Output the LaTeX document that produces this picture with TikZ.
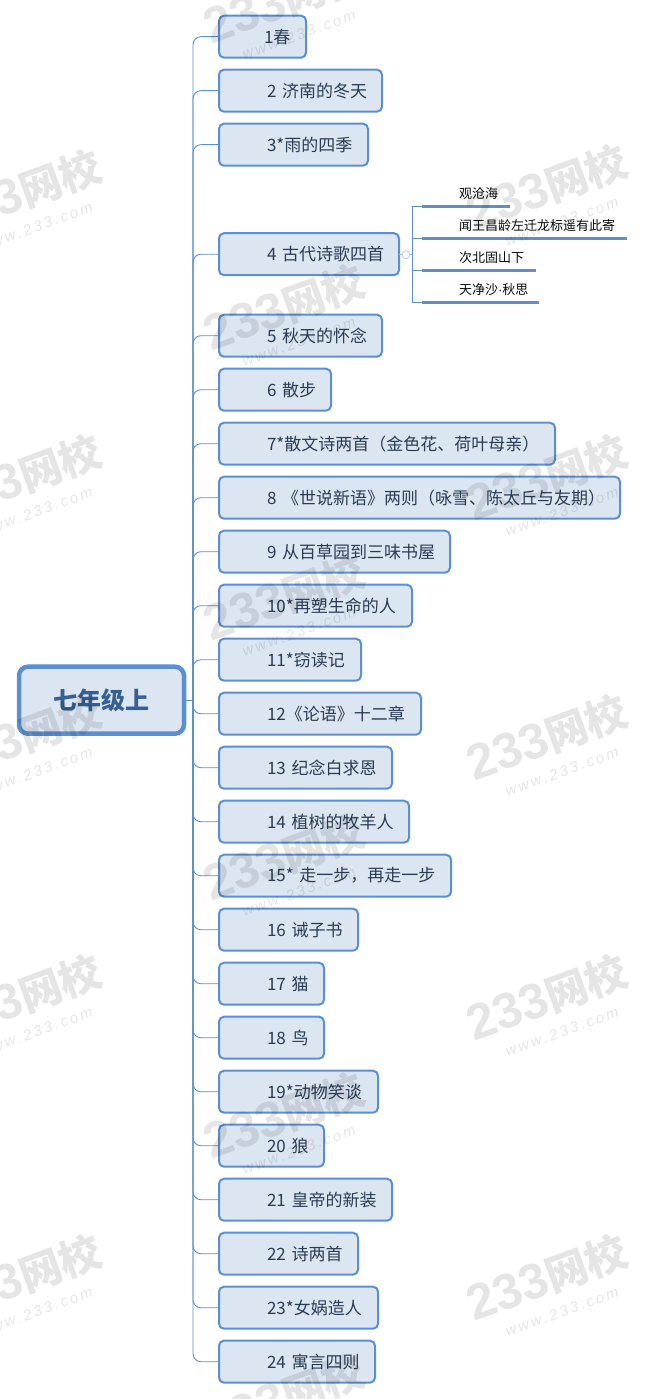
\documentclass[tikz,border=0pt]{standalone}
\usepackage{fontspec}
\setmainfont{Noto Sans CJK SC}
\newfontfamily\wmfont{Liberation Sans}
\definecolor{edge}{HTML}{5A8FD4}
\definecolor{boxfill}{HTML}{DCE6F2}
\definecolor{ink}{HTML}{2A3B55}
\definecolor{rootink}{HTML}{366092}
\tikzset{
 x=1pt,y=-1pt,
 topic/.style={draw=edge,line width=2pt,fill=boxfill,rounded corners=5pt,anchor=west,minimum height=42pt,inner xsep=0pt,inner ysep=0pt,outer sep=0pt,align=left,text=ink,font=\fontsize{17}{20}\selectfont},
 rootbox/.style={draw=edge,line width=4.5pt,fill=boxfill,rounded corners=9pt,minimum width=165pt,minimum height=67pt,outer sep=0pt,text=rootink,font=\fontsize{24}{28}\selectfont\bfseries},
 subt/.style={anchor=south west,inner xsep=0pt,inner ysep=0pt,outer sep=0pt,minimum height=26pt,align=left,text=black!85!ink,font=\fontsize{13}{16}\selectfont},
 subline/.style={draw=edge,line width=3.2pt},
 link/.style={draw=edge,line width=.9pt,rounded corners=8pt},
 sublink/.style={draw=edge,line width=.9pt},
 wm/.style={rotate=20,text=black,text opacity=.1,inner sep=0pt,align=center,font=\wmfont\fontsize{50}{50}\selectfont\bfseries},
}
\newcommand{\wmark}[2]{\node[wm] (#2) at (#1) {233\fontspec{Noto Sans CJK SC}\fontsize{42}{50}\selectfont 网校\\[-24pt]{\wmfont\fontsize{15}{18}\selectfont\mdseries\itshape\ w\,w\,w\,.\,2\,3\,3\,.\,c\,o\,m}};}
\begin{document}
\begin{tikzpicture}
\useasboundingbox (0,0) rectangle (645,1399);
\begin{scope}[yshift=-0.7pt]
\node[rootbox] (root) at (101.5,699.5) {七年级上};
\coordinate (j) at (193,699.5);
\draw[link,rounded corners=0pt] (root.east) -- (j);
\node[topic,text width=87pt] (t1) at (219,36) {\hspace*{45pt}1春};
\node[topic,text width=163pt] (t2) at (219,90) {\hspace*{48pt}2 济南的冬天};
\node[topic,text width=149pt] (t3) at (219,144) {\hspace*{48pt}3*雨的四季};
\node[topic,text width=180pt] (t4) at (219,253.5) {\hspace*{48pt}4 古代诗歌四首};
\node[topic,text width=163pt] (t5) at (219,335) {\hspace*{48pt}5 秋天的怀念};
\node[topic,text width=112pt] (t6) at (219,389) {\hspace*{48pt}6 散步};
\node[topic,text width=336pt] (t7) at (219,443) {\hspace*{48pt}7*散文诗两首（金色花、荷叶母亲）};
\node[topic,text width=401pt] (t8) at (219,497) {\hspace*{48pt}8 《世说新语》两则（咏雪、陈太丘与友期）};
\node[topic,text width=231pt] (t9) at (219,551) {\hspace*{48pt}9 从百草园到三味书屋};
\node[topic,text width=193pt] (t10) at (219,605) {\hspace*{48pt}10*再塑生命的人};
\node[topic,text width=142pt] (t11) at (219,659) {\hspace*{48pt}11*窃读记};
\node[topic,text width=202pt] (t12) at (219,713) {\hspace*{48pt}12《论语》十二章};
\node[topic,text width=173pt] (t13) at (219,767) {\hspace*{48pt}13 纪念白求恩};
\node[topic,text width=190pt] (t14) at (219,821) {\hspace*{48pt}14 植树的牧羊人};
\node[topic,text width=232pt] (t15) at (219,875) {\hspace*{48pt}15* 走一步，再走一步};
\node[topic,text width=139pt] (t16) at (219,929) {\hspace*{48pt}16 诫子书};
\node[topic,text width=105pt] (t17) at (219,983) {\hspace*{48pt}17 猫};
\node[topic,text width=105pt] (t18) at (219,1037) {\hspace*{48pt}18 鸟};
\node[topic,text width=159pt] (t19) at (219,1091) {\hspace*{48pt}19*动物笑谈};
\node[topic,text width=105pt] (t20) at (219,1145) {\hspace*{48pt}20 狼};
\node[topic,text width=173pt] (t21) at (219,1199) {\hspace*{48pt}21 皇帝的新装};
\node[topic,text width=139pt] (t22) at (219,1253) {\hspace*{48pt}22 诗两首};
\node[topic,text width=159pt] (t23) at (219,1307) {\hspace*{48pt}23*女娲造人};
\node[topic,text width=156pt] (t24) at (219,1361) {\hspace*{48pt}24 寓言四则};
\foreach \n in {1,...,24} {\draw[link] (j) |- (t\n.west);}
% sub topics
\node[circle,draw=edge!50,line width=.7pt,minimum size=8pt,inner sep=0pt,outer sep=0pt] (col) at (406,254) {};
\draw[sublink,draw=edge!60] (t4.east) -- (col.west);
\coordinate (k) at (412,254);
\draw[sublink,draw=edge!60] (col.east) -- (k);
\node[subt,text width=88pt] (s1) at (422,206) {\hspace*{37pt}观沧海};
\node[subt,text width=205pt] (s2) at (422,238) {\hspace*{37pt}闻王昌龄左迁龙标遥有此寄};
\node[subt,text width=114pt] (s3) at (422,270) {\hspace*{37pt}次北固山下};
\node[subt,text width=117pt] (s4) at (422,302) {\hspace*{37pt}天净沙{\wmfont ·}秋思};
\foreach \n in {1,...,4} {
 \draw[sublink] (k) |- (s\n.south west);
 \draw[subline] (s\n.south west) -- (s\n.south east);
}
\end{scope}
% watermarks
\wmark{288,11}{w0}
\wmark{25,203}{w1}
\wmark{551,198}{w2}
\wmark{288,318}{w3}
\wmark{25,488}{w4}
\wmark{551,488}{w5}
\wmark{288,608}{w6}
\wmark{25,748}{w7}
\wmark{551,748}{w8}
\wmark{288,868}{w9}
\wmark{25,1008}{w10}
\wmark{551,1008}{w11}
\wmark{288,1126}{w12}
\wmark{25,1288}{w13}
\wmark{551,1288}{w14}
\wmark{288,1408}{w15}
\end{tikzpicture}
\end{document}
